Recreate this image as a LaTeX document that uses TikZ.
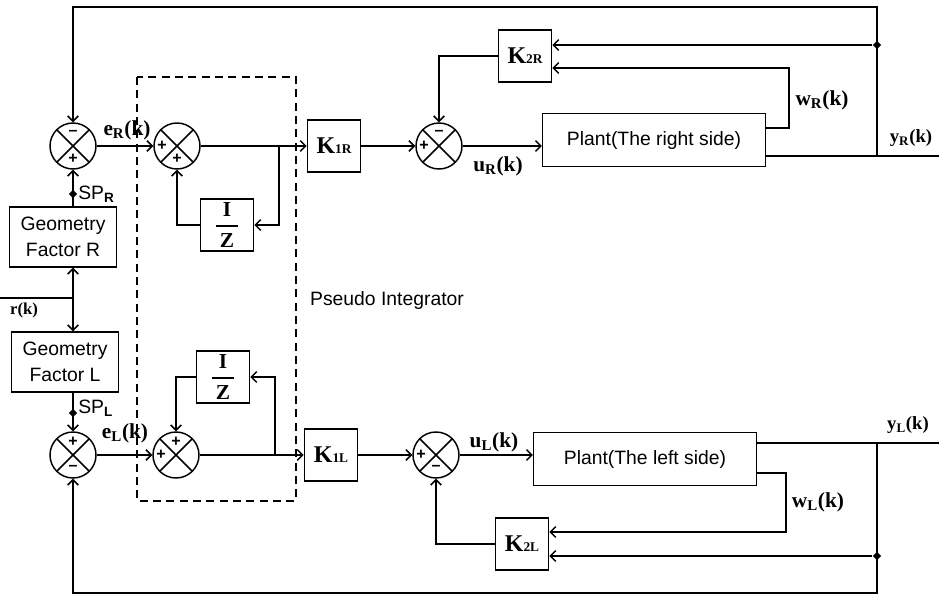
\documentclass[tikz,border=0pt]{standalone}
\usepackage{fontspec}
\setmainfont{Liberation Serif}
\setsansfont{Liberation Sans}
\usetikzlibrary{arrows.meta,calc,shapes.geometric}
\tikzset{
  dc/box/.style={
    draw,
    line width=1.1pt,
    fill=white,
    inner sep=0pt,
    minimum width=40pt,
    minimum height=39pt,
    font=\rmfamily\bfseries\fontsize{18}{19}\selectfont
  },
  dc/plant/.style={
    dc/box,
    minimum width=167pt,
    minimum height=39.5pt,
    font=\sffamily\fontsize{14.5}{17}\selectfont
  },
  dc/geo/.style={
    dc/box,
    align=center,
    minimum width=80pt,
    minimum height=45pt,
    font=\sffamily\fontsize{14.5}{19}\selectfont
  },
  dc/sum/.style={
    circle,
    draw,
    line width=1.1pt,
    fill=white,
    inner sep=0pt,
    minimum size=34.5pt,
    path picture={\draw[line width=1.1pt]
      (path picture bounding box.north west) -- (path picture bounding box.south east)
      (path picture bounding box.north east) -- (path picture bounding box.south west);}
  },
  dc/sign/.style={font=\sffamily\bfseries\fontsize{12}{12}\selectfont, inner sep=0pt},
  dc/tap/.style={diamond, fill, inner sep=1.6pt},
  dc/line/.style={line width=1.1pt},
  dc/arrow/.style={-{Straight Barb[length=4pt,width=8pt]}, line width=1.1pt},
  dc/frame/.style={line width=0.9pt, dash pattern=on 6pt off 4pt},
  dc/label/.style={font=\rmfamily\bfseries\fontsize{16}{18}\selectfont, inner sep=0pt},
  dc/note/.style={font=\sffamily\fontsize{14.5}{17}\selectfont, inner sep=0pt}
}

\begin{document}
\begin{tikzpicture}[x=0.75pt,y=-0.75pt]
  \useasboundingbox (0,0) rectangle (939,594);

  % pseudo integrator frame
  \draw[dc/frame] (137,77) rectangle (296,501);
  \node[dc/note] (pint) at (387,300) {Pseudo Integrator};

  % right side blocks
  \node[dc/sum] (sR1) at (73,146) {};
  \node[dc/sum] (sR2) at (177,146) {};
  \node[dc/sum] (sR3) at (439,146) {};
  \node[dc/box, font=\rmfamily\bfseries\fontsize{16}{17}\selectfont] (izR) at (227,225) {$\displaystyle{\hbox{I}\above1.3pt\hbox to 17pt{\hss Z\hss}}$};
  \node[dc/box] (k1R) at (334,146) {K{\fontsize{10}{10}\selectfont 1R}};
  \node[dc/box] (k2R) at (525,56) {K{\fontsize{10}{10}\selectfont 2R}};
  \node[dc/plant] (plantR) at (654,140) {Plant(The right side)};
  \node[dc/geo] (gfR) at (63,237) {Geometry\\Factor R};

  \node[dc/sign] (sR1a) at ($(sR1)+(0,-13)$) {--};
  \node[dc/sign] (sR1b) at ($(sR1)+(0,13)$) {+};
  \node[dc/sign] (sR2a) at ($(sR2)+(-15,0)$) {+};
  \node[dc/sign] (sR2b) at ($(sR2)+(0,13)$) {+};
  \node[dc/sign] (sR3a) at ($(sR3)+(0,-13)$) {--};
  \node[dc/sign] (sR3b) at ($(sR3)+(-15,0)$) {+};

  % left side blocks
  \node[dc/sum] (sL1) at (73,455) {};
  \node[dc/sum] (sL2) at (176,455) {};
  \node[dc/sum] (sL3) at (436,455) {};
  \node[dc/box, font=\rmfamily\bfseries\fontsize{16}{17}\selectfont] (izL) at (223,377) {$\displaystyle{\hbox{I}\above1.3pt\hbox to 17pt{\hss Z\hss}}$};
  \node[dc/box] (k1L) at (331,455) {K{\fontsize{10}{10}\selectfont 1L}};
  \node[dc/box] (k2L) at (522,544) {K{\fontsize{10}{10}\selectfont 2L}};
  \node[dc/plant] (plantL) at (645,459) {Plant(The left side)};
  \node[dc/geo] (gfL) at (65,362) {Geometry\\Factor L};

  \node[dc/sign] (sL1a) at ($(sL1)+(0,-13)$) {+};
  \node[dc/sign] (sL1b) at ($(sL1)+(0,13)$) {--};
  \node[dc/sign] (sL2a) at ($(sL2)+(-15,0)$) {+};
  \node[dc/sign] (sL2b) at ($(sL2)+(0,-13)$) {+};
  \node[dc/sign] (sL3a) at ($(sL3)+(-15,0)$) {+};
  \node[dc/sign] (sL3b) at ($(sL3)+(0,13)$) {--};

  % right loop
  \coordinate (cR) at (877,156);
  \coordinate (topR) at (877,7);
  \coordinate (outR) at (939,156);
  \coordinate (wRb) at (789,128);
  \coordinate (wRt) at (789,68);
  \coordinate (fbR) at (279,146);
  \node[dc/tap] (jR) at (877,45) {};
  \node[dc/tap] (spR) at (73,194) {};

  \draw[dc/line] (plantR.east |- cR) -- (outR);
  \draw[dc/arrow] (cR) -- (topR) -| (sR1.north);
  \draw[dc/arrow] (jR) -- (k2R.east |- jR);
  \draw[dc/arrow] (plantR.east |- wRb) -- (wRb) -- (wRt) -- (k2R.east |- wRt);
  \draw[dc/arrow] (k2R.west) -| (sR3.north);
  \draw[dc/arrow] (sR1.east) -- (sR2.west);
  \draw[dc/arrow] (sR2.east) -- (k1R.west);
  \draw[dc/arrow] (k1R.east) -- (sR3.west);
  \draw[dc/arrow] (sR3.east) -- (plantR.west |- sR3.east);
  \draw[dc/arrow] (fbR) |- (izR.east);
  \draw[dc/arrow] (izR.west) -| (sR2.south);
  \draw[dc/arrow] (gfR.north -| spR) -- (sR1.south);

  % reference input
  \coordinate (rIn) at (0,298);
  \coordinate (rJ) at (73,298);
  \draw[dc/line] (rIn) -- (rJ);
  \draw[dc/arrow] (rJ) -- (gfR.south -| rJ);
  \draw[dc/arrow] (rJ) -- (gfL.north -| rJ);

  % left loop
  \coordinate (cL) at (877,443);
  \coordinate (botL) at (877,593);
  \coordinate (outL) at (939,443);
  \coordinate (wLb) at (786,473);
  \coordinate (wLt) at (786,532);
  \coordinate (fbL) at (275,455);
  \node[dc/tap] (jL) at (877,556) {};
  \node[dc/tap] (spL) at (73,413) {};

  \draw[dc/line] (plantL.east |- cL) -- (outL);
  \draw[dc/arrow] (cL) -- (botL) -| (sL1.south);
  \draw[dc/arrow] (jL) -- (k2L.east |- jL);
  \draw[dc/arrow] (plantL.east |- wLb) -- (wLb) -- (wLt) -- (k2L.east |- wLt);
  \draw[dc/arrow] (k2L.west) -| (sL3.south);
  \draw[dc/arrow] (sL1.east) -- (sL2.west);
  \draw[dc/arrow] (sL2.east) -- (k1L.west);
  \draw[dc/arrow] (k1L.east) -- (sL3.west);
  \draw[dc/arrow] (sL3.east) -- (plantL.west |- sL3.east);
  \draw[dc/arrow] (fbL) |- (izL.east);
  \draw[dc/arrow] (izL.west) -| (sL2.north);
  \draw[dc/arrow] (gfL.south -| spL) -- (sL1.north);

  % signal labels
  \node[dc/label] (eR) at (127,130) {e\textsubscript{R}(k)};
  \node[dc/label] (uR) at (498,166) {u\textsubscript{R}(k)};
  \node[dc/label] (wR) at (822,100) {w\textsubscript{R}(k)};
  \node[dc/label, font=\rmfamily\bfseries\fontsize{14}{16}\selectfont] (yR) at (911,138) {y\textsubscript{R}(k)};
  \node[dc/label] (eL) at (125,433) {e\textsubscript{L}(k)};
  \node[dc/label] (uL) at (494,442) {u\textsubscript{L}(k)};
  \node[dc/label] (wL) at (818,502) {w\textsubscript{L}(k)};
  \node[dc/label, font=\rmfamily\bfseries\fontsize{14}{16}\selectfont] (yL) at (908,425) {y\textsubscript{L}(k)};
  \node[dc/label, font=\rmfamily\bfseries\fontsize{12.5}{14}\selectfont] (rk) at (24,310) {r(k)};
  \node[dc/note, anchor=west] (spRl) at (78,194) {SP\textsubscript{\textbf{R}}};
  \node[dc/note, anchor=west] (spLl) at (78,408) {SP\textsubscript{\textbf{L}}};
\end{tikzpicture}
\end{document}
